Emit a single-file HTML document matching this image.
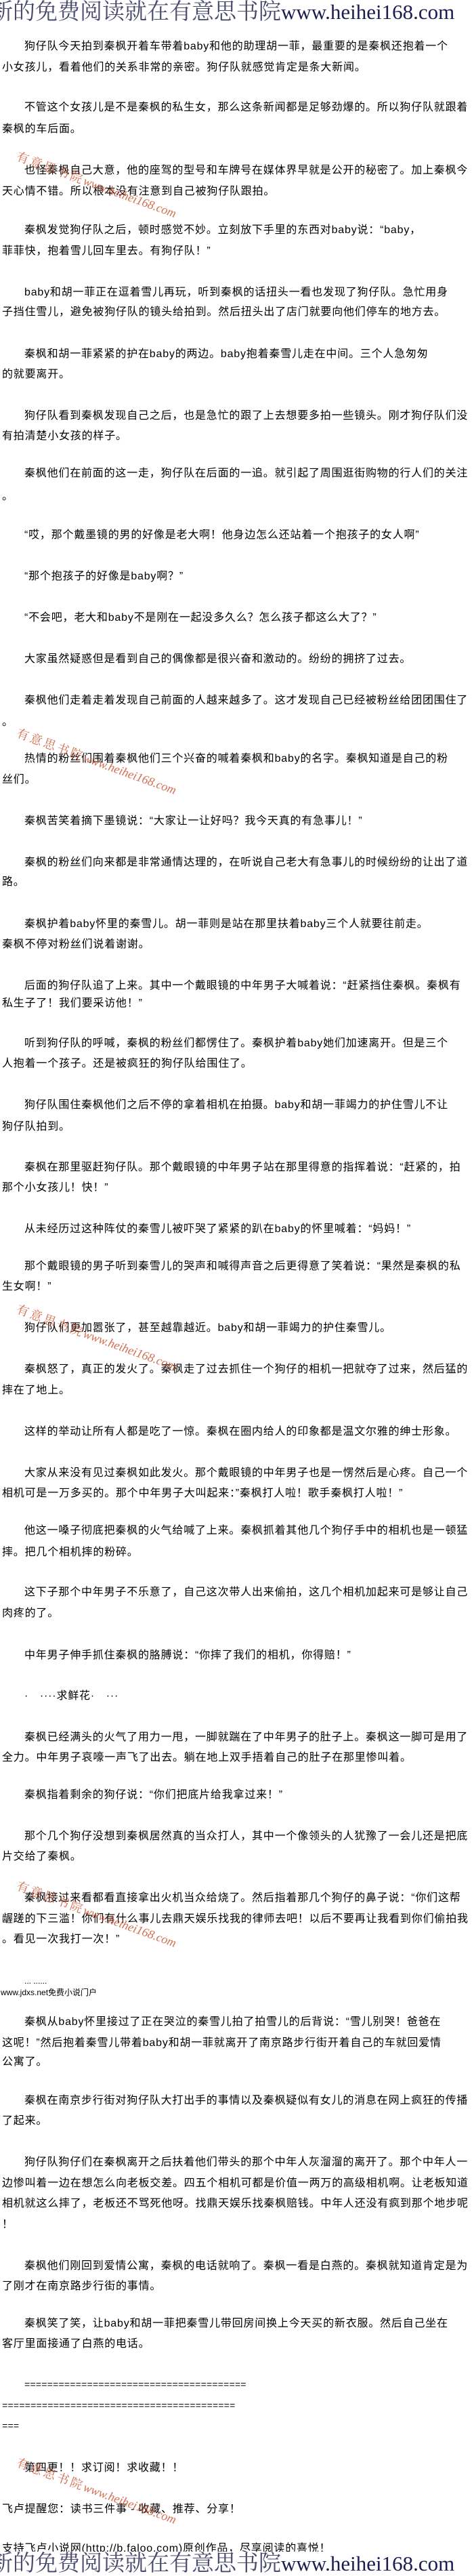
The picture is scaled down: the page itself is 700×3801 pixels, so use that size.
<!DOCTYPE html>
<html><head><meta charset="utf-8">
<style>
html,body{margin:0;padding:0;background:#fff;}
body{width:700px;height:3800px;position:relative;overflow:hidden;font-family:"Liberation Sans","Noto Sans CJK SC",sans-serif;color:#000;}
.l{position:absolute;left:3px;height:30px;line-height:30px;font-size:16px;letter-spacing:0.8px;white-space:nowrap;}
.i{left:36px;}
.eq{font-family:"Liberation Mono",monospace;font-size:14px;letter-spacing:0;}
.ban{position:absolute;left:-14px;width:730px;height:36px;line-height:36px;background:#fff;white-space:nowrap;font-family:"Liberation Serif","Noto Serif CJK SC",serif;font-size:33px;}
.ban .c{color:#4a4a6e;}
.ban .u{color:#1c1c50;font-size:31px;}
.wm{position:absolute;left:30px;transform:rotate(20deg);transform-origin:0 0;white-space:nowrap;color:#cc5533;opacity:.85;font-family:"Liberation Serif","Noto Serif CJK SC",serif;}
.wm .c{font-size:18px;letter-spacing:3px;}
.wm .u{font-size:18px;font-style:italic;}
.sm{font-size:12px;letter-spacing:0;}
</style></head><body>
<div class="ban" style="top:0"><span class="c">新的免费阅读就在有意思书院</span><span class="u">www.heihei168.com</span></div>

<div class="l i" style="top:54px">狗仔队今天拍到秦枫开着车带着baby和他的助理胡一菲，最重要的是秦枫还抱着一个</div>
<div class="l" style="top:85px">小女孩儿，看着他们的关系非常的亲密。狗仔队就感觉肯定是条大新闻。</div>
<div class="l i" style="top:144px">不管这个女孩儿是不是秦枫的私生女，那么这条新闻都是足够劲爆的。所以狗仔队就跟着</div>
<div class="l" style="top:176px">秦枫的车后面。</div>
<div class="l i" style="top:237px">也怪秦枫自己大意，他的座驾的型号和车牌号在媒体界早就是公开的秘密了。加上秦枫今</div>
<div class="l" style="top:268px">天心情不错。所以根本没有注意到自己被狗仔队跟拍。</div>
<div class="l i" style="top:325px">秦枫发觉狗仔队之后，顿时感觉不妙。立刻放下手里的东西对baby说：“baby，</div>
<div class="l" style="top:356px">菲菲快，抱着雪儿回车里去。有狗仔队！”</div>
<div class="l i" style="top:417px">baby和胡一菲正在逗着雪儿再玩，听到秦枫的话扭头一看也发现了狗仔队。急忙用身</div>
<div class="l" style="top:446px">子挡住雪儿，避免被狗仔队的镜头给拍到。然后扭头出了店门就要向他们停车的地方去。</div>
<div class="l i" style="top:508px">秦枫和胡一菲紧紧的护在baby的两边。baby抱着秦雪儿走在中间。三个人急匆匆</div>
<div class="l" style="top:538px">的就要离开。</div>
<div class="l i" style="top:599px">狗仔队看到秦枫发现自己之后，也是急忙的跟了上去想要多拍一些镜头。刚才狗仔队们没</div>
<div class="l" style="top:629px">有拍清楚小女孩的样子。</div>
<div class="l i" style="top:684px">秦枫他们在前面的这一走，狗仔队在后面的一追。就引起了周围逛街购物的行人们的关注</div>
<div class="l" style="top:718px">。</div>
<div class="l i" style="top:775px">“哎，那个戴墨镜的男的好像是老大啊！他身边怎么还站着一个抱孩子的女人啊”</div>
<div class="l i" style="top:836px">“那个抱孩子的好像是baby啊？”</div>
<div class="l i" style="top:897px">“不会吧，老大和baby不是刚在一起没多久么？怎么孩子都这么大了？”</div>
<div class="l i" style="top:958px">大家虽然疑惑但是看到自己的偶像都是很兴奋和激动的。纷纷的拥挤了过去。</div>
<div class="l i" style="top:1019px">秦枫他们走着走着发现自己前面的人越来越多了。这才发现自己已经被粉丝给团团围住了</div>
<div class="l" style="top:1051px">。</div>
<div class="l i" style="top:1105px">热情的粉丝们围着秦枫他们三个兴奋的喊着秦枫和baby的名字。秦枫知道是自己的粉</div>
<div class="l" style="top:1136px">丝们。</div>
<div class="l i" style="top:1197px">秦枫苦笑着摘下墨镜说：“大家让一让好吗？我今天真的有急事儿！”</div>
<div class="l i" style="top:1258px">秦枫的粉丝们向来都是非常通情达理的，在听说自己老大有急事儿的时候纷纷的让出了道</div>
<div class="l" style="top:1287px">路。</div>
<div class="l i" style="top:1349px">秦枫护着baby怀里的秦雪儿。胡一菲则是站在那里扶着baby三个人就要往前走。</div>
<div class="l" style="top:1379px">秦枫不停对粉丝们说着谢谢。</div>
<div class="l i" style="top:1440px">后面的狗仔队追了上来。其中一个戴眼镜的中年男子大喊着说：“赶紧挡住秦枫。秦枫有</div>
<div class="l" style="top:1466px">私生子了！我们要采访他！”</div>
<div class="l i" style="top:1525px">听到狗仔队的呼喊，秦枫的粉丝们都愣住了。秦枫护着baby她们加速离开。但是三个</div>
<div class="l" style="top:1555px">人抱着一个孩子。还是被疯狂的狗仔队给围住了。</div>
<div class="l i" style="top:1616px">狗仔队围住秦枫他们之后不停的拿着相机在拍摄。baby和胡一菲竭力的护住雪儿不让</div>
<div class="l" style="top:1648px">狗仔队拍到。</div>
<div class="l i" style="top:1708px">秦枫在那里驱赶狗仔队。那个戴眼镜的中年男子站在那里得意的指挥着说：“赶紧的，拍</div>
<div class="l" style="top:1738px">那个小女孩儿！快！”</div>
<div class="l i" style="top:1799px">从未经历过这种阵仗的秦雪儿被吓哭了紧紧的趴在baby的怀里喊着：“妈妈！”</div>
<div class="l i" style="top:1854px">那个戴眼镜的男子听到秦雪儿的哭声和喊得声音之后更得意了笑着说：“果然是秦枫的私</div>
<div class="l" style="top:1884px">生女啊！”</div>
<div class="l i" style="top:1945px">狗仔队们更加嚣张了，甚至越靠越近。baby和胡一菲竭力的护住秦雪儿。</div>
<div class="l i" style="top:2006px">秦枫怒了，真正的发火了。秦枫走了过去抓住一个狗仔的相机一把就夺了过来，然后猛的</div>
<div class="l" style="top:2037px">摔在了地上。</div>
<div class="l i" style="top:2098px">这样的举动让所有人都是吃了一惊。秦枫在圈内给人的印象都是温文尔雅的绅士形象。</div>
<div class="l i" style="top:2159px">大家从来没有见过秦枫如此发火。那个戴眼镜的中年男子也是一愣然后是心疼。自己一个</div>
<div class="l" style="top:2189px">相机可是一万多买的。那个中年男子大叫起来：”秦枫打人啦！歌手秦枫打人啦！”</div>
<div class="l i" style="top:2244px">他这一嗓子彻底把秦枫的火气给喊了上来。秦枫抓着其他几个狗仔手中的相机也是一顿猛</div>
<div class="l" style="top:2276px">摔。把几个相机摔的粉碎。</div>
<div class="l i" style="top:2335px">这下子那个中年男子不乐意了，自己这次带人出来偷拍，这几个相机加起来可是够让自己</div>
<div class="l" style="top:2366px">肉疼的了。</div>
<div class="l i" style="top:2428px">中年男子伸手抓住秦枫的胳膊说：“你摔了我们的相机，你得赔！”</div>
<div class="l i" style="top:2488px">·　····求鲜花·　···</div>
<div class="l i" style="top:2549px">秦枫已经满头的火气了用力一甩，一脚就踹在了中年男子的肚子上。秦枫这一脚可是用了</div>
<div class="l" style="top:2579px">全力。中年男子哀嚎一声飞了出去。躺在地上双手捂着自己的肚子在那里惨叫着。</div>
<div class="l i" style="top:2634px">秦枫指着剩余的狗仔说：“你们把底片给我拿过来！”</div>
<div class="l i" style="top:2695px">那个几个狗仔没想到秦枫居然真的当众打人，其中一个像领头的人犹豫了一会儿还是把底</div>
<div class="l" style="top:2725px">片交给了秦枫。</div>
<div class="l i" style="top:2786px">秦枫接过来看都看直接拿出火机当众给烧了。然后指着那几个狗仔的鼻子说：“你们这帮</div>
<div class="l" style="top:2817px">龌蹉的下三滥！你们有什么事儿去鼎天娱乐找我的律师去吧！以后不要再让我看到你们偷拍我</div>
<div class="l" style="top:2847px">。看见一次我打一次！”</div>
<div class="l i sm" style="top:2908px">... ......</div>
<div class="l sm" style="top:2925px;left:1px">www.jdxs.net免费小说门户</div>
<div class="l i" style="top:2969px">秦枫从baby怀里接过了正在哭泣的秦雪儿拍了拍雪儿的后背说：“雪儿别哭！爸爸在</div>
<div class="l" style="top:3000px">这呢！”然后抱着秦雪儿带着baby和胡一菲就离开了南京路步行街开着自己的车就回爱情</div>
<div class="l" style="top:3028px">公寓了。</div>
<div class="l i" style="top:3085px">秦枫在南京步行街对狗仔队大打出手的事情以及秦枫疑似有女儿的消息在网上疯狂的传播</div>
<div class="l" style="top:3115px">了起来。</div>
<div class="l i" style="top:3176px">狗仔队狗仔们在秦枫离开之后扶着他们带头的那个中年人灰溜溜的离开了。那个中年人一</div>
<div class="l" style="top:3207px">边惨叫着一边在想怎么向老板交差。四五个相机可都是价值一两万的高级相机啊。让老板知道</div>
<div class="l" style="top:3237px">相机就这么摔了，老板还不骂死他呀。找鼎天娱乐找秦枫赔钱。中年人还没有疯到那个地步呢</div>
<div class="l" style="top:3268px">！</div>
<div class="l i" style="top:3329px">秦枫他们刚回到爱情公寓，秦枫的电话就响了。秦枫一看是白燕的。秦枫就知道肯定是为</div>
<div class="l" style="top:3359px">了刚才在南京路步行街的事情。</div>
<div class="l i" style="top:3414px">秦枫笑了笑，让baby和胡一菲把秦雪儿带回房间换上今天买的新衣服。然后自己坐在</div>
<div class="l" style="top:3444px">客厅里面接通了白燕的电话。</div>
<div class="l i eq" style="top:3505px">=======================================</div>
<div class="l eq" style="top:3536px">=========================================</div>
<div class="l eq" style="top:3566px">===</div>
<div class="l i" style="top:3627px">第四更！！求订阅！求收藏！！</div>
<div class="l" style="top:3688px">飞卢提醒您：读书三件事 - 收藏、推荐、分享！</div>
<div class="l" style="top:3746px">支持飞卢小说网(http://b.faloo.com)原创作品，尽享阅读的喜悦！</div>

<div class="wm" style="top:217px"><span class="c">有意思书院</span><span class="u">www.heihei168.com</span></div>
<div class="wm" style="top:1068px"><span class="c">有意思书院</span><span class="u">www.heihei168.com</span></div>
<div class="wm" style="top:1918px"><span class="c">有意思书院</span><span class="u">www.heihei168.com</span></div>
<div class="wm" style="top:2769px"><span class="c">有意思书院</span><span class="u">www.heihei168.com</span></div>
<div class="wm" style="top:3620px"><span class="c">有意思书院</span><span class="u">www.heihei168.com</span></div>

<div class="ban" style="top:3765px"><span class="c">新的免费阅读就在有意思书院</span><span class="u">www.heihei168.com</span></div>
</body></html>
